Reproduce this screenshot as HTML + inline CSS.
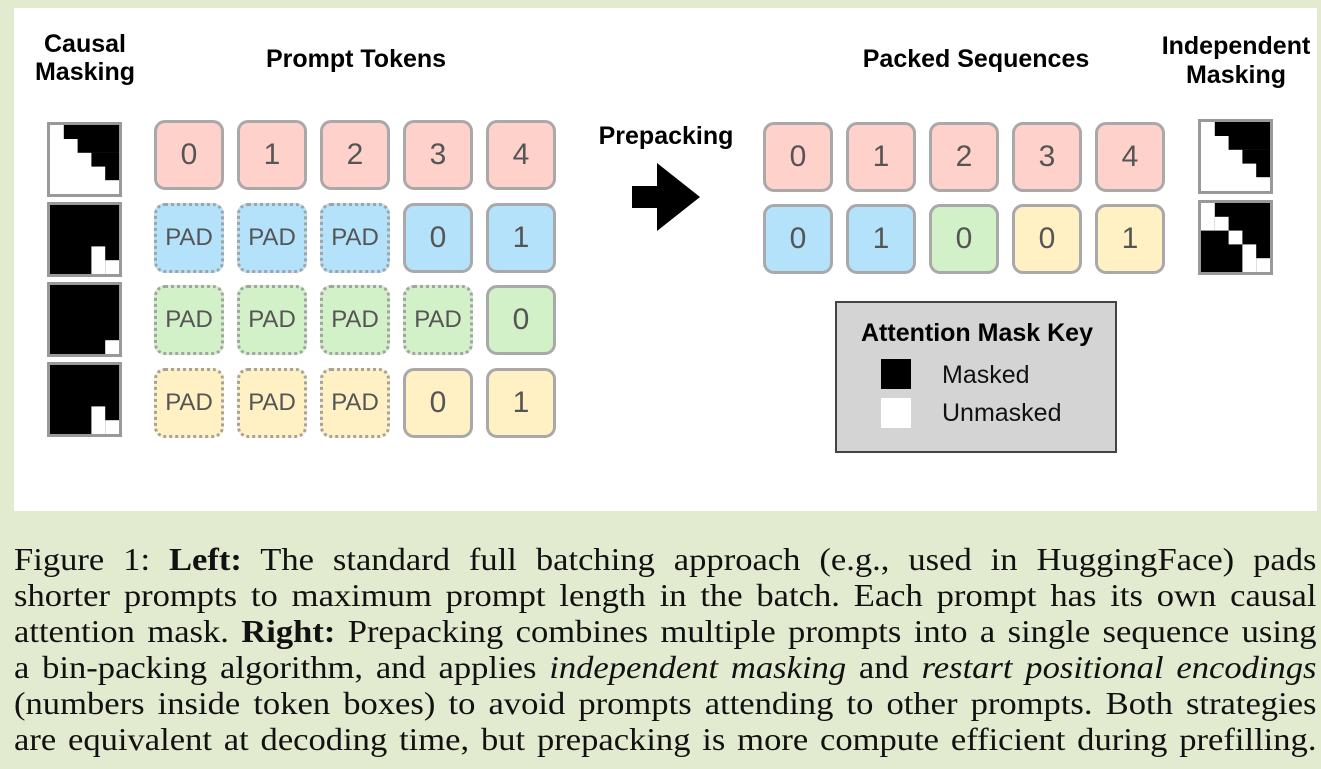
<!DOCTYPE html>
<html><head><meta charset="utf-8">
<style>
html,body{margin:0;padding:0;}
body{width:1321px;height:769px;background:#e2eacf;position:relative;overflow:hidden;font-family:"Liberation Sans",sans-serif;}
.panel{position:absolute;left:14px;top:8px;width:1303px;height:503px;background:#fff;}
.lbl{position:absolute;width:300px;text-align:center;font-weight:bold;font-size:25px;line-height:30px;height:30px;color:#000;white-space:nowrap;}
.tk{position:absolute;width:70px;height:70px;box-sizing:border-box;border:3px solid #a9a9a9;border-radius:11px;display:flex;align-items:center;justify-content:center;color:#555;font-size:30px;}
.pad{border:3px dotted #a3a3a3;font-size:24px;}
.r{background:#ffd1cb;}
.b{background:#b4e2fb;}
.g{background:#d2f1c8;}
.y{background:#fff1c4;}
.mask{position:absolute;width:75px;height:75px;}
.cap{position:absolute;left:14px;width:1206px;transform:scaleX(1.08);transform-origin:0 0;font-family:"Liberation Serif",serif;font-size:32px;line-height:36px;height:36px;color:#111;text-align:justify;text-align-last:justify;}
.key{position:absolute;left:835px;top:301px;width:282px;height:152px;box-sizing:border-box;background:#d4d4d4;border:2px solid #444;}
.kt{position:absolute;font-size:25px;line-height:30px;color:#111;white-space:nowrap;}
</style></head>
<body>
<div class="panel"></div>

<div class="lbl" style="left:-65px;top:29px;">Causal</div>
<div class="lbl" style="left:-65px;top:57px;">Masking</div>
<div class="lbl" style="left:206px;top:44px;">Prompt Tokens</div>
<div class="lbl" style="left:516px;top:121px;">Prepacking</div>
<div class="lbl" style="left:826px;top:44px;">Packed Sequences</div>
<div class="lbl" style="left:1086px;top:31px;">Independent</div>
<div class="lbl" style="left:1086px;top:60px;">Masking</div>

<!-- left masks -->
<svg class="mask" style="left:47px;top:122px;" viewBox="0 0 75 75">
<rect x="1.5" y="1.5" width="72" height="72" fill="#fff" stroke="#999" stroke-width="3"/>
<rect x="16.8" y="3" width="55.2" height="14" fill="#000"/>
<rect x="30.6" y="16.8" width="41.4" height="14" fill="#000"/>
<rect x="44.4" y="30.6" width="27.6" height="14" fill="#000"/>
<rect x="58.2" y="44.4" width="13.8" height="13.8" fill="#000"/>
</svg>
<svg class="mask" style="left:47px;top:202px;" viewBox="0 0 75 75">
<rect x="1.5" y="1.5" width="72" height="72" fill="#000" stroke="#999" stroke-width="3"/>
<rect x="44.4" y="44.4" width="13.8" height="27.6" fill="#fff"/>
<rect x="58.2" y="58.2" width="13.8" height="13.8" fill="#fff"/>
</svg>
<svg class="mask" style="left:47px;top:282px;" viewBox="0 0 75 75">
<rect x="1.5" y="1.5" width="72" height="72" fill="#000" stroke="#999" stroke-width="3"/>
<rect x="58.2" y="58.2" width="13.8" height="13.8" fill="#fff"/>
</svg>
<svg class="mask" style="left:47px;top:362px;" viewBox="0 0 75 75">
<rect x="1.5" y="1.5" width="72" height="72" fill="#000" stroke="#999" stroke-width="3"/>
<rect x="44.4" y="44.4" width="13.8" height="27.6" fill="#fff"/>
<rect x="58.2" y="58.2" width="13.8" height="13.8" fill="#fff"/>
</svg>

<!-- left tokens -->
<div class="tk r" style="left:154px;top:120px;">0</div>
<div class="tk r" style="left:237px;top:120px;">1</div>
<div class="tk r" style="left:320px;top:120px;">2</div>
<div class="tk r" style="left:403px;top:120px;">3</div>
<div class="tk r" style="left:486px;top:120px;">4</div>

<div class="tk b pad" style="left:154px;top:203px;">PAD</div>
<div class="tk b pad" style="left:237px;top:203px;">PAD</div>
<div class="tk b pad" style="left:320px;top:203px;">PAD</div>
<div class="tk b" style="left:403px;top:203px;">0</div>
<div class="tk b" style="left:486px;top:203px;">1</div>

<div class="tk g pad" style="left:154px;top:285px;">PAD</div>
<div class="tk g pad" style="left:237px;top:285px;">PAD</div>
<div class="tk g pad" style="left:320px;top:285px;">PAD</div>
<div class="tk g pad" style="left:403px;top:285px;">PAD</div>
<div class="tk g" style="left:486px;top:285px;">0</div>

<div class="tk y pad" style="left:154px;top:368px;">PAD</div>
<div class="tk y pad" style="left:237px;top:368px;">PAD</div>
<div class="tk y pad" style="left:320px;top:368px;">PAD</div>
<div class="tk y" style="left:403px;top:368px;">0</div>
<div class="tk y" style="left:486px;top:368px;">1</div>

<!-- arrow -->
<svg style="position:absolute;left:0;top:0;" width="1321" height="769">
<polygon points="632,186 657,186 657,163 700,197 657,231 657,208 632,208" fill="#000"/>
</svg>

<!-- right tokens -->
<div class="tk r" style="left:763px;top:122px;">0</div>
<div class="tk r" style="left:846px;top:122px;">1</div>
<div class="tk r" style="left:929px;top:122px;">2</div>
<div class="tk r" style="left:1012px;top:122px;">3</div>
<div class="tk r" style="left:1095px;top:122px;">4</div>

<div class="tk b" style="left:763px;top:204px;">0</div>
<div class="tk b" style="left:846px;top:204px;">1</div>
<div class="tk g" style="left:929px;top:204px;">0</div>
<div class="tk y" style="left:1012px;top:204px;">0</div>
<div class="tk y" style="left:1095px;top:204px;">1</div>

<!-- right masks -->
<svg class="mask" style="left:1198px;top:119px;" viewBox="0 0 75 75">
<rect x="1.5" y="1.5" width="72" height="72" fill="#fff" stroke="#999" stroke-width="3"/>
<rect x="16.8" y="3" width="55.2" height="14" fill="#000"/>
<rect x="30.6" y="16.8" width="41.4" height="14" fill="#000"/>
<rect x="44.4" y="30.6" width="27.6" height="14" fill="#000"/>
<rect x="58.2" y="44.4" width="13.8" height="13.8" fill="#000"/>
</svg>
<svg class="mask" style="left:1198px;top:200px;" viewBox="0 0 75 75">
<rect x="1.5" y="1.5" width="72" height="72" fill="#000" stroke="#999" stroke-width="3"/>
<rect x="3" y="3" width="13.8" height="27.6" fill="#fff"/>
<rect x="16.8" y="16.8" width="13.8" height="13.8" fill="#fff"/>
<rect x="30.6" y="30.6" width="13.8" height="13.8" fill="#fff"/>
<rect x="44.4" y="44.4" width="13.8" height="27.6" fill="#fff"/>
<rect x="58.2" y="58.2" width="13.8" height="13.8" fill="#fff"/>
</svg>

<!-- key -->
<div class="key"></div>
<div class="lbl" style="left:827px;top:318px;">Attention Mask Key</div>
<div style="position:absolute;left:881px;top:359px;width:30px;height:30px;background:#000;"></div>
<div style="position:absolute;left:881px;top:398px;width:30px;height:30px;background:#fff;"></div>
<div class="kt" style="left:942px;top:360px;">Masked</div>
<div class="kt" style="left:942px;top:398px;">Unmasked</div>

<!-- caption -->
<div class="cap" style="top:541px;">Figure 1: <b>Left:</b> The standard full batching approach (e.g., used in HuggingFace) pads</div>
<div class="cap" style="top:577px;">shorter prompts to maximum prompt length in the batch. Each prompt has its own causal</div>
<div class="cap" style="top:613px;">attention mask. <b>Right:</b> Prepacking combines multiple prompts into a single sequence using</div>
<div class="cap" style="top:649px;">a bin-packing algorithm, and applies <i>independent masking</i> and <i>restart positional encodings</i></div>
<div class="cap" style="top:685px;">(numbers inside token boxes) to avoid prompts attending to other prompts. Both strategies</div>
<div class="cap" style="top:721px;">are equivalent at decoding time, but prepacking is more compute efficient during prefilling.</div>
</body></html>
